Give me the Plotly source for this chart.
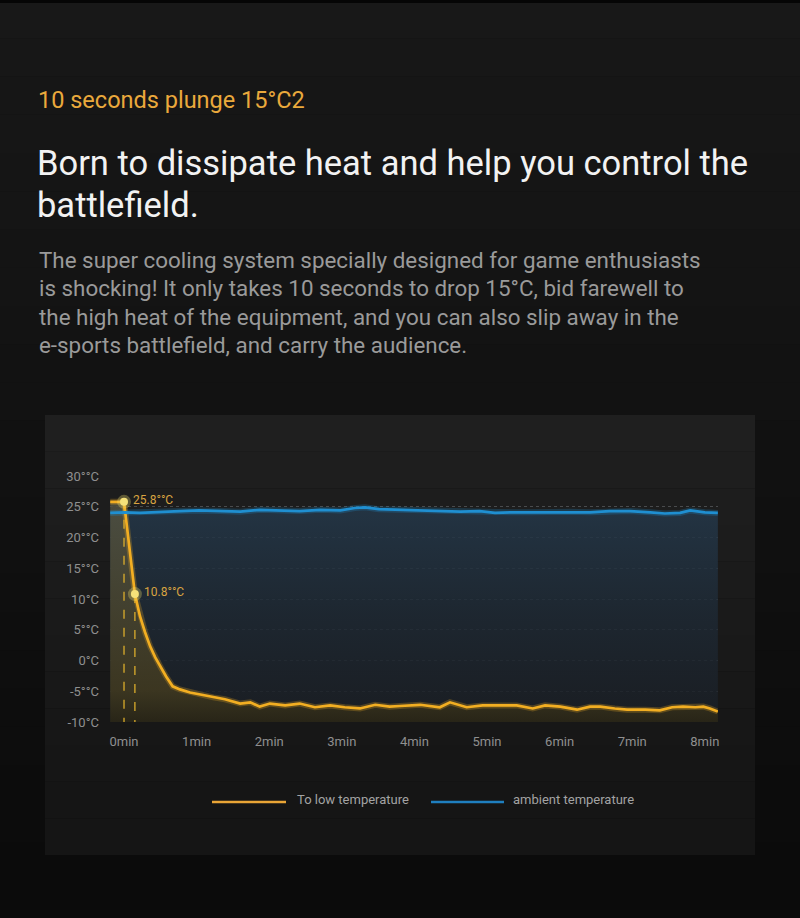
import plotly.graph_objects as go

# ---------------- data ----------------
cool_t = [-0.19, 0.0, 0.15, 0.22, 0.29, 0.36, 0.43, 0.50, 0.58, 0.67, 0.77, 0.91, 1.05, 1.23,
          1.39, 1.60, 1.74, 1.87, 2.01, 2.22, 2.42, 2.63, 2.84, 3.04, 3.25, 3.46, 3.66, 3.80,
          4.08, 4.35, 4.49, 4.72, 4.94, 5.18, 5.41, 5.63, 5.80, 6.01, 6.24, 6.42, 6.56, 6.76,
          6.93, 7.18, 7.38, 7.55, 7.70, 7.87, 7.98, 8.07, 8.18]
cool_v = [25.8, 25.8, 10.8, 7.2, 4.6, 2.3, 0.5, -1.0, -2.6, -4.2, -4.7, -5.2, -5.5, -6.0,
          -6.3, -7.0, -6.8, -7.5, -7.0, -7.3, -7.0, -7.6, -7.3, -7.6, -7.8, -7.2, -7.5, -7.4,
          -7.2, -7.6, -6.8, -7.6, -7.3, -7.3, -7.3, -7.8, -7.3, -7.5, -8.0, -7.5, -7.5, -7.8,
          -8.0, -8.0, -8.1, -7.6, -7.5, -7.6, -7.5, -7.8, -8.3]

amb_t = [-0.19, 0.01, 0.22, 0.50, 0.77, 1.03, 1.32, 1.60, 1.87, 2.15, 2.42, 2.70, 2.98, 3.18,
         3.32, 3.51, 3.80, 4.08, 4.35, 4.63, 4.90, 5.11, 5.32, 5.59, 5.87, 6.14, 6.42, 6.69,
         6.97, 7.25, 7.45, 7.66, 7.80, 8.00, 8.18]
amb_v = [24.0, 24.1, 24.0, 24.2, 24.3, 24.4, 24.3, 24.2, 24.5, 24.4, 24.3, 24.5, 24.4, 24.8,
         24.9, 24.6, 24.5, 24.5, 24.3, 24.2, 24.3, 24.0, 24.1, 24.1, 24.2, 24.2, 24.1, 24.3,
         24.3, 24.1, 23.9, 24.0, 24.4, 24.1, 24.0]

marker_t = [0.0, 0.15]
marker_v = [25.8, 10.8]
marker_labels = ["25.8°°C", "10.8°°C"]

x_ticks = [0, 1, 2, 3, 4, 5, 6, 7, 8]
x_labels = ["0min", "1min", "2min", "3min", "4min", "5min", "6min", "7min", "8min"]
y_ticks = [-10, -5, 0, 5, 10, 15, 20, 25, 30]
y_labels = ["-10°C", "-5°°C", "0°C", "5°°C", "10°C", "15°°C", "20°°C", "25°°C", "30°°C"]

series_names = ["To low temperature", "ambient temperature"]

headline_small = "10 seconds plunge 15°C2"
headline = ["Born to dissipate heat and help you control the", "battlefield."]
body = ["The super cooling system specially designed for game enthusiasts",
        "is shocking! It only takes 10 seconds to drop 15°C, bid farewell to",
        "the high heat of the equipment, and you can also slip away in the",
        "e-sports battlefield, and carry the audience."]

# ---------------- layout helpers ----------------
W, H = 800, 918
PL, PR, PT, PB = 110, 718, 476, 722
def X(px):
    return (px - PL) / (PR - PL)
def Y(py):
    return (PB - py) / (PB - PT)

FONT = "Roboto, sans-serif"
YELLOW = "#f2ae22"
BLUE = "#1f8fd1"
ymin = y_ticks[0]

fig = go.Figure()

# blue area
fig.add_trace(go.Scatter(x=amb_t, y=[ymin] * len(amb_t), mode="lines",
                         line=dict(width=0), showlegend=False, hoverinfo="skip"))
fig.add_trace(go.Scatter(x=amb_t, y=amb_v, mode="lines", line=dict(width=0),
                         fill="tonexty",
                         fillgradient=dict(type="vertical", start=ymin, stop=25,
                                           colorscale=[[0, "rgba(26,30,36,0.85)"],
                                                       [0.5, "rgba(30,41,52,0.85)"],
                                                       [1, "rgba(36,56,74,0.85)"]]),
                         showlegend=False, hoverinfo="skip"))
# yellow area
fig.add_trace(go.Scatter(x=cool_t, y=[ymin] * len(cool_t), mode="lines",
                         line=dict(width=0), showlegend=False, hoverinfo="skip"))
fig.add_trace(go.Scatter(x=cool_t, y=cool_v, mode="lines", line=dict(width=0),
                         fill="tonexty",
                         fillgradient=dict(type="vertical", start=ymin, stop=25,
                                           colorscale=[[0, "rgba(42,38,22,0.88)"],
                                                       [0.15, "rgba(64,57,32,0.88)"],
                                                       [1, "rgba(80,80,64,0.88)"]]),
                         showlegend=False, hoverinfo="skip"))

# dashed guide lines
for t, v in zip(marker_t, marker_v):
    fig.add_trace(go.Scatter(x=[t, t], y=[v, ymin], mode="lines",
                             line=dict(color="#e6b52c", width=1.2, dash="dash"),
                             showlegend=False, hoverinfo="skip"))

# glow + lines
fig.add_trace(go.Scatter(x=amb_t, y=amb_v, mode="lines",
                         line=dict(color="rgba(31,143,209,0.25)", width=6),
                         showlegend=False, hoverinfo="skip"))
fig.add_trace(go.Scatter(x=cool_t, y=cool_v, mode="lines",
                         line=dict(color="rgba(242,174,34,0.25)", width=6),
                         showlegend=False, hoverinfo="skip"))
fig.add_trace(go.Scatter(x=cool_t, y=cool_v, mode="lines", name=series_names[0],
                         line=dict(color=YELLOW, width=2.7), showlegend=False))
fig.add_trace(go.Scatter(x=amb_t, y=amb_v, mode="lines", name=series_names[1],
                         line=dict(color=BLUE, width=2.7), showlegend=False))

# markers
fig.add_trace(go.Scatter(x=marker_t, y=marker_v, mode="markers",
                         marker=dict(size=14, color="rgba(250,230,110,0.3)"),
                         showlegend=False, hoverinfo="skip"))
fig.add_trace(go.Scatter(x=marker_t, y=marker_v, mode="markers",
                         marker=dict(size=8, color="#f6e27a"),
                         showlegend=False, hoverinfo="skip"))

for t, v, lab in zip(marker_t, marker_v, marker_labels):
    fig.add_annotation(x=t, y=v, text=lab, showarrow=False, xanchor="left",
                       xshift=7, yshift=2, font=dict(family=FONT, size=12, color="#d9a441"))

# ---------------- background shapes ----------------
shapes = []
nb = 24
for i in range(nb):
    y0 = i * H / nb
    y1 = (i + 1) * H / nb
    f = i / (nb - 1)
    c = int(24 - 13 * f)
    shapes.append(dict(type="rect", xref="paper", yref="paper", x0=X(0), x1=X(W),
                       y0=Y(y1), y1=Y(y0), line=dict(width=0),
                       fillcolor=f"rgb({c},{c},{c})", layer="below"))
shapes.append(dict(type="rect", xref="paper", yref="paper", x0=X(0), x1=X(W),
                   y0=Y(3), y1=Y(0), line=dict(width=0), fillcolor="#050505", layer="below"))
# panel
npb = 12
for i in range(npb):
    y0 = 415 + i * (855 - 415) / npb
    y1 = 415 + (i + 1) * (855 - 415) / npb
    f = i / (npb - 1)
    c = int(31 - 10 * f)
    shapes.append(dict(type="rect", xref="paper", yref="paper", x0=X(45), x1=X(755),
                       y0=Y(y1), y1=Y(y0), line=dict(width=0),
                       fillcolor=f"rgb({c},{c},{c})", layer="below"))

# legend (drawn manually)
legend_items = [(series_names[0], "#e9a536", 212, 286, 295),
                (series_names[1], "#1f7fbf", 431, 504, 511)]
for name, col, lx0, lx1, tx in legend_items:
    shapes.append(dict(type="line", xref="paper", yref="paper", x0=X(lx0), x1=X(lx1),
                       y0=Y(802), y1=Y(802), line=dict(color=col, width=2.5)))
fig.update_layout(shapes=shapes)

for name, col, lx0, lx1, tx in legend_items:
    fig.add_annotation(xref="paper", yref="paper", x=X(tx), y=Y(799), text=name,
                       showarrow=False, xanchor="left", yanchor="middle",
                       font=dict(family=FONT, size=13, color="#a3a3a3"))

# ---------------- texts ----------------
def text(px, py, s, size, color):
    fig.add_annotation(xref="paper", yref="paper", x=X(px), y=Y(py), text=s,
                       showarrow=False, xanchor="left", yanchor="middle",
                       font=dict(family=FONT, size=size, color=color))

text(36, 100, headline_small, 23.5, "#eaa93c")
text(35, 163, headline[0], 34.5, "#f2f2f2")
text(35, 205, headline[1], 34.5, "#f2f2f2")
for i, line in enumerate(body):
    text(37, 260 + i * 28.4, line, 22.4, "#9a9a9a")

# ---------------- axes ----------------
fig.update_xaxes(range=[-0.193, 8.182], tickvals=x_ticks, ticktext=x_labels,
                 showgrid=False, zeroline=False, showline=False, ticks="",
                 ticklabelstandoff=10,
                 tickfont=dict(family=FONT, size=13, color="#8f8f8f"))
fig.update_yaxes(range=[-10, 30], tickvals=y_ticks, ticktext=y_labels,
                 showgrid=True, gridcolor="rgba(140,145,150,0.4)", griddash="dot",
                 gridwidth=1, zeroline=False, showline=False, ticks="",
                 ticklabelstandoff=10,
                 tickfont=dict(family=FONT, size=13, color="#8f8f8f"))

fig.update_layout(
    width=W, height=H,
    margin=dict(l=PL, r=W - PR, t=PT, b=H - PB, pad=0),
    paper_bgcolor="#101010", plot_bgcolor="rgba(0,0,0,0)",
    showlegend=False,
    hovermode=False,
)

fig.write_html("out.html", config={"displayModeBar": False},
               post_script="document.body.style.margin='0';document.body.style.overflow='hidden';"
                           "document.body.style.background='#101010';")
